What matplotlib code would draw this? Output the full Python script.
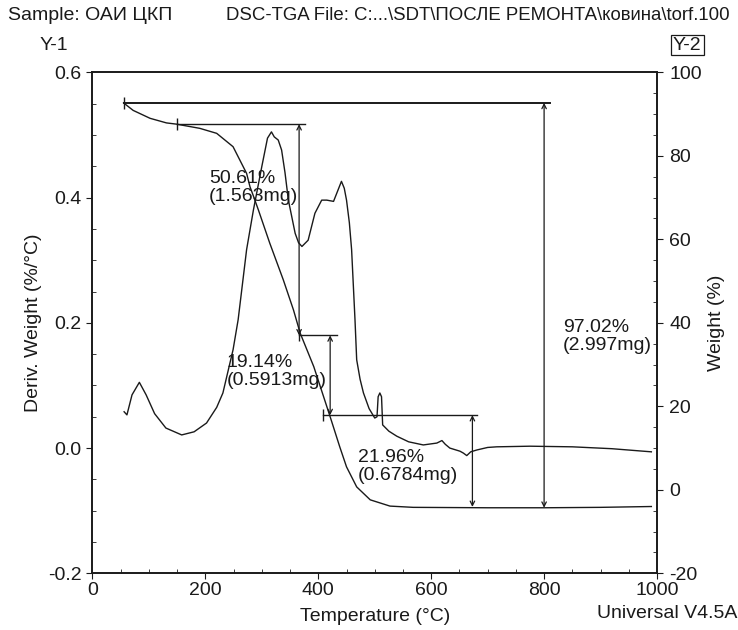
import matplotlib.pyplot as plt
from matplotlib.ticker import MultipleLocator

plt.rcParams['font.family'] = ['Liberation Sans', 'DejaVu Sans']
plt.rcParams['font.size'] = 14
plt.rcParams['axes.unicode_minus'] = False

# DTG curve (left axis)
dtg_temp = [56, 61, 70, 83, 95, 110, 130, 158, 180, 202, 220, 231, 249, 258, 273,
            285, 300, 310, 317, 322, 329, 335, 341, 347, 359, 365, 371, 382, 394,
            406, 415, 427, 434, 441, 446, 450, 455, 459, 465, 468, 474, 480, 490,
            500, 504, 506, 509, 512, 514, 525, 539, 560, 586, 610, 619, 625, 633,
            651, 657, 663, 670, 681, 700, 716, 775, 850, 920, 990]
dtg_val = [0.058, 0.053, 0.085, 0.105, 0.085, 0.055, 0.032, 0.021, 0.026, 0.040,
           0.065, 0.088, 0.157, 0.205, 0.317, 0.380, 0.450, 0.495, 0.505, 0.497,
           0.492, 0.476, 0.440, 0.396, 0.343, 0.328, 0.322, 0.332, 0.375, 0.396,
           0.396, 0.394, 0.410, 0.426, 0.415, 0.396, 0.360, 0.317, 0.205, 0.141,
           0.110, 0.088, 0.063, 0.048, 0.050, 0.082, 0.088, 0.082, 0.037, 0.027,
           0.019, 0.010, 0.005, 0.008, 0.012, 0.006, 0.000, -0.005, -0.008, -0.012,
           -0.006, -0.003, 0.001, 0.002, 0.003, 0.002, -0.001, -0.006]

# TGA curve (right axis)
tga_temp = [55, 72, 102, 131, 149, 190, 220, 249, 261, 273, 279, 285, 294, 314,
            338, 356, 368, 392, 421, 438, 450, 468, 492, 527, 568, 700, 800, 900, 990]
tga_val = [92.7, 90.9, 89.0, 87.9, 87.6, 86.6, 85.4, 82.2, 79.0, 75.8, 72.6, 70.4,
           67.0, 59.1, 50.3, 43.1, 37.5, 29.5, 17.5, 10.3, 5.5, 0.7, -2.4, -3.9,
           -4.2, -4.3, -4.3, -4.2, -4.0]

# step analysis: horizontal line start/end, level, arrow position, lower level
step_line_start = [55, 149, 366, 409]
step_line_end = [810, 376, 433, 681]
step_upper = [92.7, 87.6, 37.0, 17.9]
step_arrow_t = [800, 366, 421, 673]
step_lower = [-4.3, 37.0, 17.9, -4.1]
step_labels = ['97.02%\n(2.997mg)', '50.61%\n(1.563mg)',
               '19.14%\n(0.5913mg)', '21.96%\n(0.6784mg)']
label_pos = [(833, 41.0), (206, 76.6), (238, 32.6), (470, 9.8)]

W, H = 738, 630
fig = plt.figure(figsize=(W / 100, H / 100), dpi=100)
ax = fig.add_axes([92.5 / W, 1 - 573.3 / H, (657 - 92.5) / W, (573.3 - 72.4) / H])
ax2 = ax.twinx()

col = '#1a1a1a'
ax.plot(dtg_temp, dtg_val, color=col, lw=1.0)
ax2.plot(tga_temp, tga_val, color=col, lw=1.0)

for i in range(len(step_upper)):
    ax2.plot([step_line_start[i], step_line_end[i]], [step_upper[i]] * 2,
             color=col, lw=1.4 if i == 0 else 1.0)
    ax2.plot([step_line_start[i]], [step_upper[i]], marker='|', ms=9,
             color=col, mew=1.0)
    ax2.annotate('', xy=(step_arrow_t[i], step_lower[i]),
                 xytext=(step_arrow_t[i], step_upper[i]),
                 arrowprops=dict(arrowstyle='<->', color=col, lw=0.9,
                                 shrinkA=0, shrinkB=0, mutation_scale=8))
    ax2.text(label_pos[i][0], label_pos[i][1], step_labels[i], ha='left',
             va='top', color=col, linespacing=1.1)

ax.set_xlim(0, 1000)
ax.set_ylim(-0.2, 0.6)
ax2.set_ylim(-20, 100)
ax.xaxis.set_major_locator(MultipleLocator(200))
ax.xaxis.set_minor_locator(MultipleLocator(50))
ax.yaxis.set_major_locator(MultipleLocator(0.2))
ax.yaxis.set_minor_locator(MultipleLocator(0.05))
ax2.yaxis.set_major_locator(MultipleLocator(20))
ax2.yaxis.set_minor_locator(MultipleLocator(5))
ax.yaxis.set_major_formatter(plt.FuncFormatter(lambda v, p: f'{v:.1f}'))

for a in (ax, ax2):
    a.tick_params(which='major', direction='out', length=4, width=0.8,
                  colors=col, labelsize=14, pad=2)
    a.tick_params(which='minor', direction='in', length=3, width=0.6, colors=col)
    for s in a.spines.values():
        s.set_linewidth(1.2)
        s.set_color(col)
ax.tick_params(axis='y', which='major', pad=4)
ax2.tick_params(axis='y', which='major', pad=5)

ax.set_xlabel('Temperature (°C)', fontsize=14, color=col, labelpad=7)
ax.set_ylabel('Deriv. Weight (%/°C)', fontsize=14, color=col, labelpad=4)
ax2.set_ylabel('Weight (%)', fontsize=14, color=col, labelpad=4)

fig.text(8 / W, 1 - 15 / H, 'Sample: ОАИ ЦКП', fontsize=14, va='center', color=col)
fig.text(226 / W, 1 - 15 / H,
         'DSC-TGA File: C:...\\SDT\\ПОСЛЕ РЕМОНТА\\ковина\\torf.100',
         fontsize=13.4, va='center', color=col)
fig.text(40 / W, 1 - 45 / H, 'Y-1', fontsize=14, va='center', color=col)
fig.text(673 / W, 1 - 45 / H, 'Y-2', fontsize=14, va='center', color=col,
         bbox=dict(boxstyle='square,pad=0.1', fc='none', ec=col, lw=0.9))
fig.text(737 / W, 1 - 614 / H, 'Universal V4.5A', fontsize=14, va='center',
         ha='right', color=col)

fig.savefig('out.png', dpi=100)
